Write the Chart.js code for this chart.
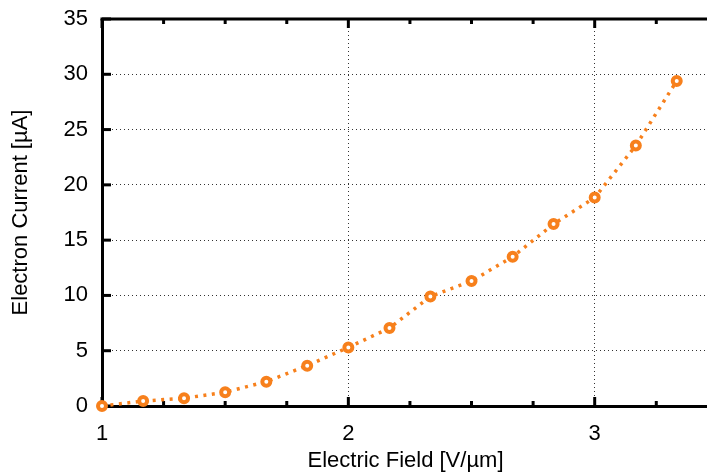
<!DOCTYPE html>
<html>
<head>
<meta charset="utf-8">
<script src="https://cdn.jsdelivr.net/npm/chart.js@4.4.1/dist/chart.umd.min.js"></script>
<style>
  html, body { margin: 0; padding: 0; background: #fff; overflow: hidden; width: 707px; height: 472px; }
  canvas { display: block; }
</style>
</head>
<body>
<!-- the frame runs past the right edge, so the canvas is a bit wider than the page -->
<canvas id="chart-current" width="717" height="472"></canvas>
<script>
// Emission current vs applied field
const fieldValues = [1, 1.167, 1.333, 1.5, 1.667, 1.833, 2, 2.167, 2.333, 2.5, 2.667, 2.833, 3, 3.167, 3.333];
const currentValues = [0, 0.45, 0.7, 1.25, 2.2, 3.65, 5.3, 7.05, 9.9, 11.3, 13.5, 16.45, 18.85, 23.55, 29.4];

const xTicks = [1, 2, 3];
const xMinorTicks = [1.25, 1.5, 1.75, 2.25, 2.5, 2.75, 3.25];
const yTicks = [0, 5, 10, 15, 20, 25, 30, 35];

const ORANGE = '#f7801c';
const FONT = { family: '"Liberation Sans", Arial, sans-serif', size: 22 };

const points = fieldValues.map((x, i) => ({ x: x, y: currentValues[i] }));

// inward tick marks + top frame line, gnuplot style
const frameTicks = {
  id: 'frameTicks',
  beforeDatasetsDraw(chart) {
    const { ctx, chartArea: a, scales: { x, y } } = chart;
    const seg = (x1, y1, x2, y2, w) => {
      ctx.lineWidth = w;
      ctx.beginPath();
      ctx.moveTo(x1, y1);
      ctx.lineTo(x2, y2);
      ctx.stroke();
    };
    ctx.save();
    ctx.strokeStyle = '#000';
    seg(a.left - 1.5, a.top, a.right, a.top, 3);
    xTicks.forEach(v => {
      const px = x.getPixelForValue(v);
      seg(px, a.bottom, px, a.bottom - 9, 3);
      seg(px, a.top, px, a.top + 9, 3);
    });
    xMinorTicks.forEach(v => {
      const px = x.getPixelForValue(v);
      seg(px, a.bottom, px, a.bottom - 5, 3);
      seg(px, a.top, px, a.top + 5, 3);
    });
    yTicks.forEach(v => {
      const py = y.getPixelForValue(v);
      seg(a.left, py, a.left + 9, py, 3);
    });
    ctx.restore();
  }
};

const ctx = document.getElementById('chart-current').getContext('2d');
new Chart(ctx, {
  type: 'scatter',
  data: {
    datasets: [{
      data: points,
      showLine: true,
      borderColor: ORANGE,
      borderWidth: 3.5,
      borderDash: [3, 5.5],
      pointRadius: 4,
      pointBorderWidth: 4,
      pointBorderColor: ORANGE,
      pointBackgroundColor: '#fff',
      clip: false
    }, {
      // centre dot of each marker
      data: points,
      showLine: false,
      pointRadius: 1,
      pointBorderWidth: 0,
      pointBackgroundColor: ORANGE,
      clip: false
    }]
  },
  plugins: [frameTicks],
  options: {
    responsive: false,
    animation: false,
    layout: { padding: { top: 19, right: 0, left: 0, bottom: 0 } },
    plugins: { legend: { display: false }, tooltip: { enabled: false } },
    scales: {
      x: {
        type: 'linear',
        min: 1,
        max: 3.464,
        afterBuildTicks: s => { s.ticks = xTicks.map(v => ({ value: v })); },
        afterFit: s => { s.height = 66; s.paddingLeft = 0; s.paddingRight = 0; },
        ticks: { color: '#000', font: FONT, padding: 15, maxRotation: 0 },
        grid: {
          drawTicks: false,
          color: c => (c.tick && c.tick.value > 1) ? '#333' : 'transparent',
          lineWidth: 1
        },
        border: { display: true, color: '#000', width: 3, dash: [1, 3] },
        title: {
          display: true,
          text: 'Electric Field [V/µm]',
          color: '#000',
          font: { ...FONT, lineHeight: 1 },
          padding: { top: 0, bottom: 0 }
        }
      },
      y: {
        min: 0,
        max: 35,
        afterBuildTicks: s => { s.ticks = yTicks.map(v => ({ value: v })); },
        afterFit: s => { s.width = 102; s.paddingTop = 0; s.paddingBottom = 0; },
        ticks: { color: '#000', font: FONT, padding: 14 },
        grid: {
          drawTicks: false,
          color: c => (c.tick && c.tick.value > 0 && c.tick.value < 35) ? '#333' : 'transparent',
          lineWidth: 1
        },
        border: { display: true, color: '#000', width: 3, dash: [1, 3] },
        title: {
          display: true,
          text: 'Electron Current [µA]',
          color: '#000',
          font: { ...FONT, lineHeight: 1 },
          padding: { top: 10, bottom: 0 }
        }
      }
    }
  }
});
</script>
</body>
</html>
